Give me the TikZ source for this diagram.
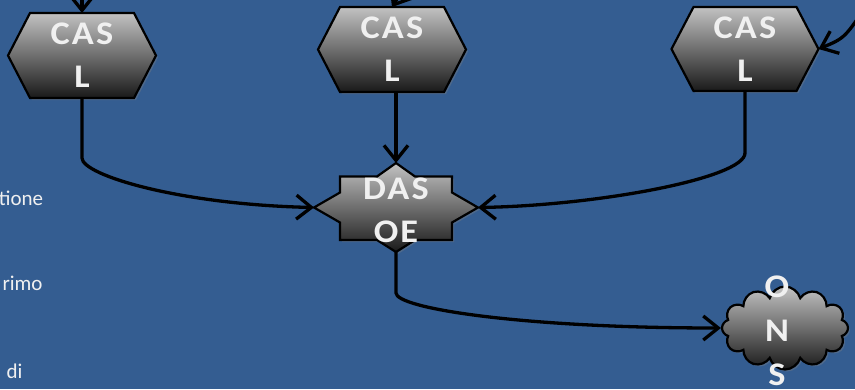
\documentclass[tikz,border=0pt]{standalone}
\usepackage{fontspec}
\setmainfont{Carlito}
\newfontfamily\shapefont{Carlito}[LetterSpace=6]
\usetikzlibrary{arrows.meta,shapes.symbols,shadows,calc}
\definecolor{bgblue}{RGB}{52,93,145}
\definecolor{txtwhite}{RGB}{240,240,240}
\newcommand\myhexpath[1]{($(#1.north west)+(22,0)$) -- ($(#1.north east)+(-22,0)$) -- (#1.east) -- ($(#1.south east)+(-22,0)$) -- ($(#1.south west)+(22,0)$) -- (#1.west) -- cycle}
\newcommand\widetxt[1]{\scalebox{1.1}[1]{#1}}
\begin{document}
\begin{tikzpicture}[x=1pt,y=-1pt,
  box/.style={draw=none, inner sep=0pt, outer sep=0pt},
  shapefill/.style={draw=black, line width=2.2pt, line join=miter, top color=black!24, bottom color=black!90,
    drop shadow={opacity=0.35, shadow xshift=2pt, shadow yshift=-2pt}},
  lab/.style={text=txtwhite, font=\shapefont\bfseries\fontsize{33}{43}\selectfont, align=center, inner sep=0pt},
  conn/.style={line width=3.3pt, -{Straight Barb[length=15pt,width=24pt]}},
  side/.style={text=txtwhite, font=\fontsize{21}{24}\selectfont, inner sep=0pt, anchor=base east}]
\fill[bgblue] (0,0) rectangle (855,389);
\useasboundingbox (0,0) rectangle (855,389);
\begin{scope}
\clip (0,0) rectangle (855,389);

% left text fragments
\node[side] (t1) at (43.3,205) {tione};
\node[side] (t2) at (42.7,290) {rimo};
\node[side] (t3) at (22.7,378) {di};

% CAS L boxes
\node[box, minimum width=148pt, minimum height=85pt] (cas1) at (82,55.5) {};
\path[shapefill] \myhexpath{cas1};
\node[lab] (cas1t) at (cas1) {\widetxt{CAS}\\\widetxt{L}};

\node[box, minimum width=148pt, minimum height=85pt] (cas2) at (392,49.5) {};
\path[shapefill] \myhexpath{cas2};
\node[lab] (cas2t) at (cas2) {\widetxt{CAS}\\\widetxt{L}};

\node[box, minimum width=147pt, minimum height=84pt] (cas3) at (745,49) {};
\path[shapefill] \myhexpath{cas3};
\node[lab] (cas3t) at (cas3) {\widetxt{CAS}\\\widetxt{L}};

% DAS OE
\node[box, minimum width=164pt, minimum height=89pt] (das) at (396,207.5) {};
\path[shapefill] ($(das)+(-82,0)$) -- ($(das)+(-56,15)$) -- ($(das)+(-56,32.5)$) -- ($(das)+(-19,32.5)$)
  -- ($(das)+(0,44.5)$) -- ($(das)+(19,32.5)$) -- ($(das)+(56,32.5)$) -- ($(das)+(56,15)$)
  -- ($(das)+(82,0)$) -- ($(das)+(56,-15)$) -- ($(das)+(56,-31)$) -- ($(das)+(19,-31)$)
  -- ($(das)+(0,-44.5)$) -- ($(das)+(-19,-31)$) -- ($(das)+(-56,-31)$) -- ($(das)+(-56,-15)$) -- cycle;
\node[lab] (dast) at ($(das)+(0,2.5)$) {\widetxt{DAS}\\\widetxt{OE}};

% ONS cloud
\node[cloud, cloud puffs=12, aspect=1.5, minimum width=126pt, minimum height=83pt, inner sep=0pt, shapefill] (ons) at (785,328) {};
\node[lab, font=\shapefont\bfseries\fontsize{33}{44}\selectfont] (onst) at (777,331) {\widetxt{O}\\\widetxt{N}\\\widetxt{S}};

% incoming arrows from outside
\coordinate (in1) at (82,-40);
\coordinate (in2) at (470,-70);
\coordinate (in3) at (870,0);
\draw[conn] (in1) -- (cas1.north);
\draw[conn] (in2) .. controls (415,-30) .. (cas2.north);
\draw[conn] (in3) .. controls (845,38) .. (cas3.east);

% connectors
\draw[conn] (cas1.south) -- ++(0,60) .. controls +(0,17) and +(-135,-3) .. (das.west);
\draw[conn] (das.north |- cas2.south) -- (das.north);
\draw[conn] (cas3.south) -- ++(0,62) .. controls +(0,25) and +(120,-2) .. (das.east);
\draw[conn] (das.south) -- ++(0,41) .. controls +(0,15) and +(-202,0) .. (ons.west);
\end{scope}
\end{tikzpicture}
\end{document}
